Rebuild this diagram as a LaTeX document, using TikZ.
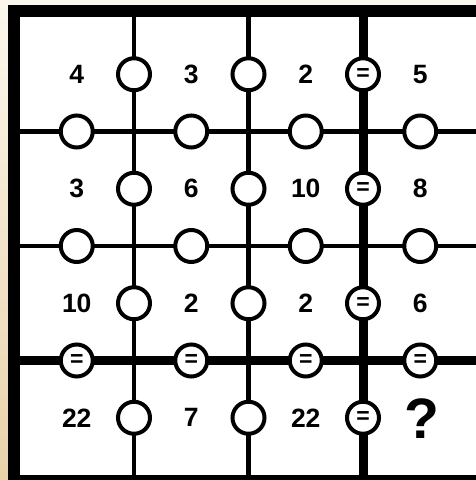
\documentclass[tikz,border=0pt]{standalone}
\usepackage{fontspec}
\setmainfont{Liberation Sans}
\begin{document}
\begin{tikzpicture}[x=1pt,y=-1pt,
  num/.style={font=\bfseries\fontsize{10pt}{10pt}\selectfont, inner sep=0pt, anchor=center, scale=2.65},
  qmark/.style={font=\bfseries\fontsize{10pt}{10pt}\selectfont, inner sep=0pt, anchor=center, scale=5.7},
  ring/.style={circle, draw=black, line width=4pt, fill=white, minimum size=32pt, inner sep=0pt},
  eqtext/.style={font=\bfseries\fontsize{10pt}{10pt}\selectfont, inner sep=0pt, anchor=center, scale=2.3},
  thinline/.style={line width=4.5pt},
  thickline/.style={line width=9pt}]
\useasboundingbox (0,0) rectangle (476,480);
\shade[top color={rgb,255:red,251;green,247;blue,238}, bottom color={rgb,255:red,233;green,210;blue,170}] (0,0) rectangle (476,480);
\fill[black] (8,5) rectangle (489.5,487);
\fill[white] (19.5,17) rectangle (477.5,475);
% grid lines
\draw[thinline] (134,17) -- (134,475);
\draw[thinline] (248.5,17) -- (248.5,475);
\draw[thickline] (363,17) -- (363,475);
\draw[thinline] (19.5,131.5) -- (477.5,131.5);
\draw[thinline] (19.5,246) -- (477.5,246);
\draw[thickline] (19.5,360.5) -- (477.5,360.5);
% circles on vertical lines
\foreach \r/\y in {1/74.25,2/188.75,3/303.25,4/417.75}{
  \node[ring] (v1\r) at (134,\y) {};
  \node[ring] (v2\r) at (248.5,\y) {};
  \node[ring] (v3\r) at (363,\y) {};
  \node[eqtext] (e3\r) at (v3\r.center) {=};
}
% circles on horizontal lines
\foreach \c/\x in {1/76.75,2/191.25,3/305.75,4/420.25}{
  \node[ring] (h1\c) at (\x,131.5) {};
  \node[ring] (h2\c) at (\x,246) {};
  \node[ring] (h3\c) at (\x,360.5) {};
  \node[eqtext] (f3\c) at (h3\c.center) {=};
}
% numbers
\node[num] (n11) at (76.75,74.25) {4};
\node[num] (n12) at (191.25,74.25) {3};
\node[num] (n13) at (305.75,74.25) {2};
\node[num] (n14) at (420.25,74.25) {5};
\node[num] (n21) at (76.75,188.75) {3};
\node[num] (n22) at (191.25,188.75) {6};
\node[num] (n23) at (305.75,188.75) {10};
\node[num] (n24) at (420.25,188.75) {8};
\node[num] (n31) at (76.75,303.25) {10};
\node[num] (n32) at (191.25,303.25) {2};
\node[num] (n33) at (305.75,303.25) {2};
\node[num] (n34) at (420.25,303.25) {6};
\node[num] (n41) at (76.75,417.75) {22};
\node[num] (n42) at (191.25,417.75) {7};
\node[num] (n43) at (305.75,417.75) {22};
\node[qmark] (n44) at (422,419) {?};
\end{tikzpicture}
\end{document}
